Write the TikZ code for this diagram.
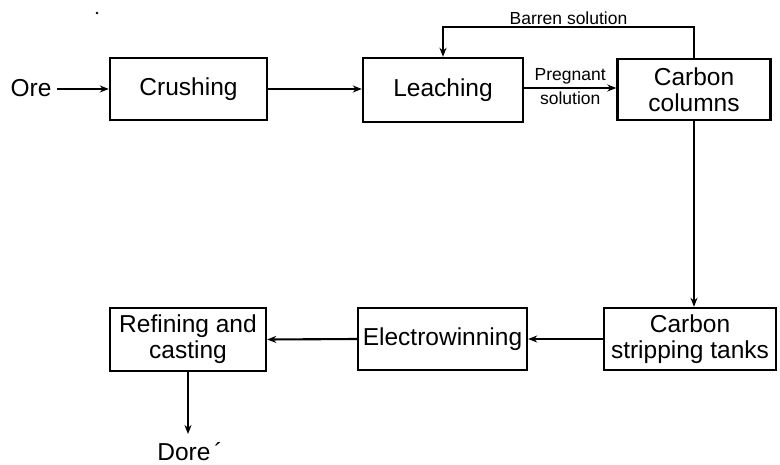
\documentclass[tikz,border=0pt]{standalone}
\usepackage{fontspec}
\setmainfont{Liberation Sans}
\usetikzlibrary{arrows.meta}
\begin{document}
\begin{tikzpicture}[x=1pt,y=-1pt,
  line width=2.1pt,
  stage/.style={draw, line width=2.4pt, inner sep=0pt, align=center,
    font=\fontsize{24.5}{26}\selectfont},
  arr/.style={-{Stealth[length=9pt,width=7pt]}},
  lbl/.style={font=\fontsize{17.5}{19}\selectfont, inner sep=1pt},
  plain/.style={font=\fontsize{24.5}{26}\selectfont, inner sep=1pt}]
\useasboundingbox (0,0) rectangle (780,465);

% top row
\node[plain] (ore) at (31,88) {Ore};
\node[stage, minimum width=157, minimum height=62] (crush) at (188.5,89) {Crushing};
\node[stage, minimum width=160, minimum height=64] (leach) at (443,90) {Leaching};
\node[stage, minimum width=153, minimum height=61] (carbcol) at (694,89.5) {Carbon\\columns};

% bottom row
\node[stage, minimum width=156, minimum height=63] (refine) at (188,339.5) {Refining and\\casting};
\node[stage, minimum width=169, minimum height=62] (electro) at (442.5,339) {Electrowinning};
\node[stage, minimum width=172, minimum height=62] (strip) at (690,339) {Carbon\\stripping tanks};
\node[plain] (dore) at (190,452) {Dore\,´};

% stray speck near the top edge
\fill (97,13) circle (1.3);

% flow
\draw[arr] (ore.east) ++(4,1) -- (crush.west |- 0,89);
\draw[arr] (crush.east) -- (leach.west |- crush.east);
\draw[arr] (leach.east |- 0,88) -- node[lbl, above=2pt] (preg) {Pregnant}
  node[lbl, below=2pt] (sol) {solution} (carbcol.west |- 0,88);
\draw[arr] (carbcol.north) -- ++(0,-31) coordinate (bt)
  -| node[lbl, pos=0.25, above=0pt] (barren) {Barren solution} (leach.north);
\draw[arr] (carbcol.south) -- (carbcol.south |- strip.north);
\draw[arr] (strip.west) -- (electro.east);
\draw[arr] (electro.west) -- (refine.east);
\draw[arr] (refine.south) -- (refine.south |- 0,434);
\end{tikzpicture}
\end{document}
